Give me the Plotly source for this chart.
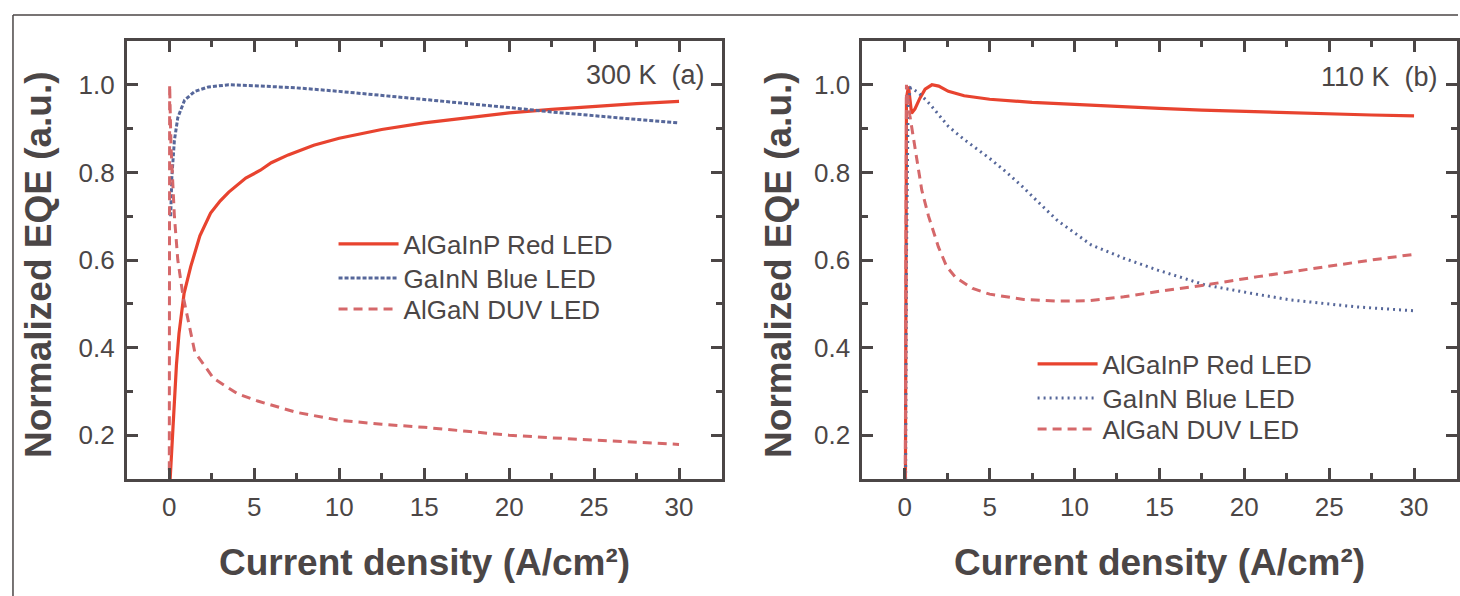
import plotly.graph_objects as go

W, H = 1460, 596

def px(x):
    return x / W

def py(y):
    return 1 - y / H

# ---------------- data: panel (a) 300 K ----------------
a_red_x = [0.05, 0.1, 0.2, 0.28, 0.42, 0.57, 0.87, 1.26, 1.8, 2.43, 3.0, 3.5, 4.0, 4.5, 5.36, 6.0, 7, 8.5, 10, 12.5, 15, 17.5, 20, 22.5, 25, 27.5, 30]
a_red_y = [0.10, 0.14, 0.21, 0.257, 0.36, 0.432, 0.524, 0.585, 0.655, 0.707, 0.735, 0.755, 0.772, 0.787, 0.805, 0.822, 0.84, 0.862, 0.878, 0.898, 0.913, 0.925, 0.936, 0.944, 0.951, 0.957, 0.962]

a_blue_x = [0.08, 0.15, 0.3, 0.5, 0.9, 1.5, 2.3, 3.5, 5, 7.5, 10, 12.5, 15, 17.5, 20, 22.5, 25, 27.5, 30]
a_blue_y = [0.70, 0.79, 0.873, 0.925, 0.965, 0.985, 0.995, 1.0, 0.998, 0.993, 0.985, 0.976, 0.967, 0.957, 0.948, 0.938, 0.929, 0.921, 0.913]

a_duv_x = [0.0, 0.01, 0.02, 0.1, 0.3, 0.5, 0.8, 1.5, 2.6, 4, 5.2, 7.5, 10, 12.5, 15, 17.5, 20, 22.5, 25, 27.5, 30]
a_duv_y = [0.12, 0.6, 1.0, 0.86, 0.70, 0.60, 0.52, 0.39, 0.33, 0.295, 0.278, 0.252, 0.234, 0.225, 0.218, 0.209, 0.200, 0.194, 0.189, 0.184, 0.179]

# ---------------- data: panel (b) 110 K ----------------
b_red_x = [0.04, 0.06, 0.1, 0.22, 0.4, 0.6, 0.9, 1.2, 1.6, 2.0, 2.57, 3.5, 5, 7.5, 10, 12.5, 15, 17.5, 20, 22.5, 25, 27.5, 30]
b_red_y = [0.10, 0.60, 0.97, 0.996, 0.935, 0.945, 0.97, 0.99, 1.0, 0.997, 0.985, 0.975, 0.967, 0.96, 0.955, 0.95, 0.946, 0.942, 0.939, 0.936, 0.934, 0.931, 0.929]

b_blue_x = [0.05, 0.1, 0.2, 0.35, 0.7, 1.0, 1.5, 2.0, 2.57, 3.5, 5, 6, 7, 8, 9, 11, 12.9, 14.9, 17.7, 20.4, 22.7, 26.6, 30]
b_blue_y = [0.10, 0.6, 0.96, 0.993, 0.985, 0.975, 0.955, 0.932, 0.905, 0.875, 0.832, 0.80, 0.765, 0.727, 0.69, 0.634, 0.604, 0.577, 0.543, 0.524, 0.509, 0.493, 0.484]

b_duv_x = [0.03, 0.06, 0.1, 0.3, 0.71, 1.0, 1.4, 1.98, 2.47, 3, 4, 5, 7, 9, 10.8, 12.9, 14.9, 17.7, 20.8, 24.7, 27.5, 30]
b_duv_y = [0.10, 0.7, 1.0, 0.93, 0.829, 0.76, 0.70, 0.63, 0.585, 0.56, 0.535, 0.522, 0.51, 0.506, 0.507, 0.516, 0.528, 0.543, 0.562, 0.585, 0.600, 0.613]

series_names = ["AlGaInP Red LED", "GaInN Blue LED", "AlGaN DUV LED"]
panel_labels = ["300 K  (a)", "110 K  (b)"]
x_title = "Current density (A/cm²)"
y_title = "Normalized EQE (a.u.)"
x_ticks = [0, 5, 10, 15, 20, 25, 30]
y_ticks = [0.2, 0.4, 0.6, 0.8, 1.0]

RED = "#e8432f"
BLUE = "#56679a"
PINK = "#d5686a"
AX = "#4b4646"

fig = go.Figure()

def add_panel(xr, yr, xb, yb, xd, yd, xa, ya, legs, blue_dash):
    fig.add_trace(go.Scatter(x=xr, y=yr, mode="lines", name=series_names[0], line=dict(color=RED, width=3.2),
                             xaxis=xa, yaxis=ya, legend=legs[0]))
    fig.add_trace(go.Scatter(x=xb, y=yb, mode="lines", name=series_names[1], line=dict(color=BLUE, width=3, dash=blue_dash),
                             xaxis=xa, yaxis=ya, legend=legs[1]))
    fig.add_trace(go.Scatter(x=xd, y=yd, mode="lines", name=series_names[2], line=dict(color=PINK, width=3, dash="9px,6px"),
                             xaxis=xa, yaxis=ya, legend=legs[2]))

add_panel(a_red_x, a_red_y, a_blue_x, a_blue_y, a_duv_x, a_duv_y, "x", "y", ["legend", "legend2", "legend3"], "4px,2px")
add_panel(b_red_x, b_red_y, b_blue_x, b_blue_y, b_duv_x, b_duv_y, "x2", "y2", ["legend4", "legend5", "legend6"], "2px,4px")

tickfont = dict(family="Liberation Sans, Arial", size=26, color=AX)

def xax(domain, anchor):
    return dict(domain=domain, anchor=anchor, range=[-2.5, 32.5], tickvals=x_ticks,
                ticks="inside", ticklen=11, tickwidth=2.5, tickcolor=AX,
                minor=dict(dtick=2.5, ticks="inside", ticklen=6, tickwidth=2.5, tickcolor=AX),
                showline=True, linewidth=3, linecolor=AX, mirror="ticks",
                showgrid=False, zeroline=False, tickfont=tickfont, ticklabelstandoff=3)

def yax(domain, anchor):
    return dict(domain=domain, anchor=anchor, range=[0.1, 1.1], tickvals=y_ticks, tickformat=".1f",
                ticks="inside", ticklen=11, tickwidth=2.5, tickcolor=AX,
                minor=dict(dtick=0.1, ticks="inside", ticklen=6, tickwidth=2.5, tickcolor=AX),
                showline=True, linewidth=3, linecolor=AX, mirror="ticks",
                showgrid=False, zeroline=False, tickfont=tickfont, ticklabelstandoff=4)

ydom = [py(479), py(41)]
xa_dom = [px(127), px(722.5)]
xb_dom = [px(863.5), px(1458.5)]

legfont = dict(family="Liberation Sans, Arial", size=26, color=AX)

def leg(xs, ys):
    return dict(x=px(xs), y=py(ys), xanchor="left", yanchor="middle", font=legfont,
                bgcolor="rgba(0,0,0,0)", itemwidth=60, borderwidth=0)

fig.update_layout(
    width=W, height=H, margin=dict(l=0, r=0, t=0, b=0),
    paper_bgcolor="white", plot_bgcolor="white",
    xaxis=xax(xa_dom, "y"), yaxis=yax(ydom, "x"),
    xaxis2=xax(xb_dom, "y2"), yaxis2=yax(ydom, "x2"),
    legend=leg(334, 244), legend2=leg(334, 278), legend3=leg(334, 309),
    legend4=leg(1034, 364), legend5=leg(1034, 398), legend6=leg(1034, 429),
    showlegend=True,
)

titlefont = dict(family="Liberation Sans, Arial", size=37, color=AX)
annfont = dict(family="Liberation Sans, Arial", size=27, color=AX)
for cx, ylab_x, lab, lx, ly in [((127 + 722.5) / 2, 38, panel_labels[0], 646, 75),
                                ((863.5 + 1458.5) / 2, 779, panel_labels[1], 1381, 77)]:
    fig.add_annotation(text="<b>" + x_title + "</b>", x=px(cx), y=py(562),
                       xref="paper", yref="paper", showarrow=False, font=titlefont,
                       xanchor="center", yanchor="middle")
    fig.add_annotation(text="<b>" + y_title + "</b>", x=px(ylab_x), y=py(264),
                       xref="paper", yref="paper", showarrow=False, font=titlefont, textangle=-90,
                       xanchor="center", yanchor="middle")
    fig.add_annotation(text=lab, x=px(lx), y=py(ly), xref="paper", yref="paper",
                       showarrow=False, font=annfont, xanchor="center", yanchor="middle")

# outer frame of the figure (top and left edges)
fig.add_shape(type="line", xref="paper", yref="paper", x0=px(13), x1=1.0, y0=py(15), y1=py(15),
              line=dict(color=AX, width=1.5))
fig.add_shape(type="line", xref="paper", yref="paper", x0=px(13), x1=px(13), y0=0, y1=py(15),
              line=dict(color=AX, width=1.5))

# remove the page's default body margin so the 1460x596 figure fills the window exactly
fig.write_html("out.html", config={"displayModeBar": False},
               post_script="document.body.style.margin='0';document.body.style.overflow='hidden';")
